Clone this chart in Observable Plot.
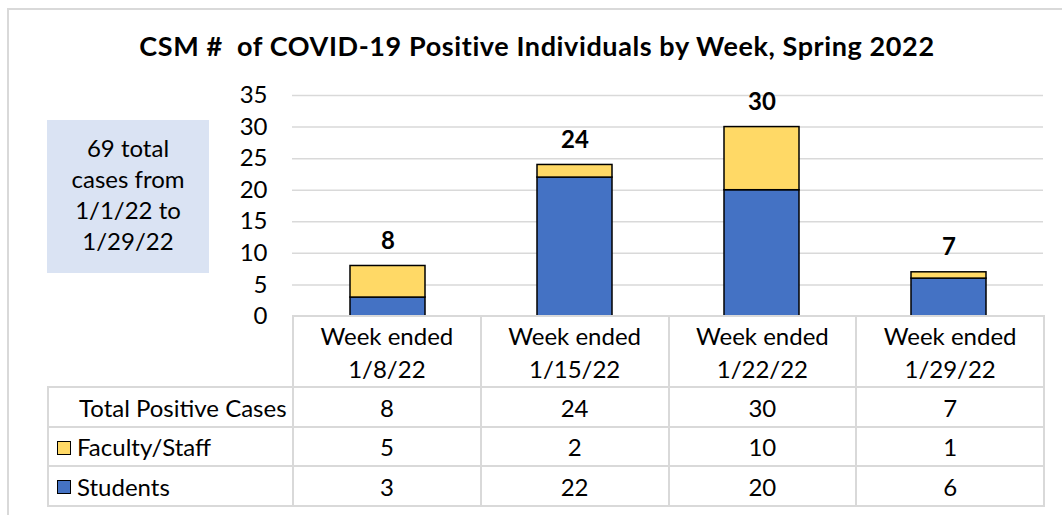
<!DOCTYPE html>
<html><head><meta charset="utf-8">
<script src="https://cdn.jsdelivr.net/npm/d3@7"></script>
<script src="https://cdn.jsdelivr.net/npm/@observablehq/plot@0.6"></script>
<style>
body{margin:0;background:#fff;}
#wrap{position:relative;width:1062px;height:515px;overflow:hidden;font-family:Lato,sans-serif;color:#000;}
#frame{position:absolute;left:7px;top:8px;width:1100px;height:600px;border-left:2px solid #d9d9d9;border-top:2px solid #d9d9d9;box-sizing:border-box;}
#title{position:absolute;left:0;top:30px;width:1074px;text-align:center;font-weight:bold;font-size:27px;letter-spacing:0.6px;line-height:32px;white-space:pre;}
#note{position:absolute;left:47px;top:120px;width:162px;height:153px;background:#DAE3F3;text-align:center;font-size:24px;line-height:31px;padding-top:12px;box-sizing:border-box;}
#chart{position:absolute;left:0;top:0;}
table{position:absolute;left:47px;top:315px;border-collapse:collapse;table-layout:fixed;font-size:24px;}
td{border:2px solid #d9d9d9;text-align:center;padding:0;vertical-align:middle;}
td.lab{text-align:left;white-space:nowrap;}
.key{display:inline-block;width:12px;height:12px;border:1.5px solid #000;vertical-align:middle;margin:0 6px 0 8px;position:relative;top:-2px;}
</style></head><body><div id="wrap"><div id="frame"></div><div id="title"></div><div id="note"></div><div id="chart"></div></div>
<script>
const weeks = ["1/8/22","1/15/22","1/22/22","1/29/22"];
const weekPrefix = "Week ended";
const students = [3,22,20,6];
const faculty = [5,2,10,1];
const totals = [8,24,30,7];
const series = ["Students","Faculty/Staff"];
const seriesColors = ["#4472C4","#FFD966"];
const yTicks = [0,5,10,15,20,25,30,35];
const title = "CSM #  of COVID-19 Positive Individuals by Week, Spring 2022";
const noteLines = ["69 total","cases from","1/1/22 to","1/29/22"];
const totalLabel = "Total Positive Cases";

document.getElementById("title").textContent = title;
document.getElementById("note").innerHTML = noteLines.join("<br>");

const rows = weeks.flatMap((w,i)=>[
  {week:w, group:series[0], value:students[i]},
  {week:w, group:series[1], value:faculty[i]}
]);
const labels = weeks.map((w,i)=>({week:w,total:totals[i]}));

const chart = Plot.plot({
  width:1062, height:330, marginTop:95, marginBottom:14, marginLeft:292, marginRight:19,
  style:{fontFamily:"Lato, sans-serif", fontSize:"24px", color:"#000", background:"transparent", overflow:"visible"},
  x:{type:"band", domain:weeks, padding:0, axis:null},
  y:{domain:[0,35], ticks:yTicks, tickSize:0, tickPadding:25, label:null, tickFormat:d=>String(d)},
  color:{domain:series, range:seriesColors},
  marks:[
    Plot.ruleY(yTicks.filter(d=>d>0), {stroke:"#d9d9d9", strokeWidth:1.5}),
    Plot.barY(rows, {x:"week", y:"value", fill:"group", stroke:"#000", strokeWidth:1.5, insetLeft:56, insetRight:56}),
    Plot.text(labels, {x:"week", y:"total", text:d=>String(d.total), dy:-25, fontWeight:"bold", fontSize:24})
  ]
});
document.getElementById("chart").appendChild(chart);

// data table under the chart
const colW = [245].concat(weeks.map(()=>187.75));
const tbl = document.createElement("table");
const cg = document.createElement("colgroup");
colW.forEach(w=>{const c=document.createElement("col");c.style.width=w+"px";cg.appendChild(c);});
tbl.appendChild(cg);
function row(h){const tr=document.createElement("tr");tr.style.height=h+"px";tbl.appendChild(tr);return tr;}
const hr = row(71);
const e = document.createElement("td"); e.style.border="none"; hr.appendChild(e);
weeks.forEach(w=>{const td=document.createElement("td");td.style.lineHeight="33px";td.innerHTML=weekPrefix+"<br>"+w;hr.appendChild(td);});
function dataRow(h, labelHtml, vals){
  const tr=row(h);
  const l=document.createElement("td"); l.className="lab"; l.innerHTML=labelHtml; tr.appendChild(l);
  vals.forEach(v=>{const td=document.createElement("td");td.textContent=v;tr.appendChild(td);});
}
dataRow(40, '<span style="padding-left:30px">'+totalLabel+'</span>', totals);
dataRow(39, '<span class="key" style="background:'+seriesColors[1]+'"></span>'+series[1], faculty);
dataRow(40, '<span class="key" style="background:'+seriesColors[0]+'"></span>'+series[0], students);
document.getElementById("wrap").appendChild(tbl);
</script></body></html>
